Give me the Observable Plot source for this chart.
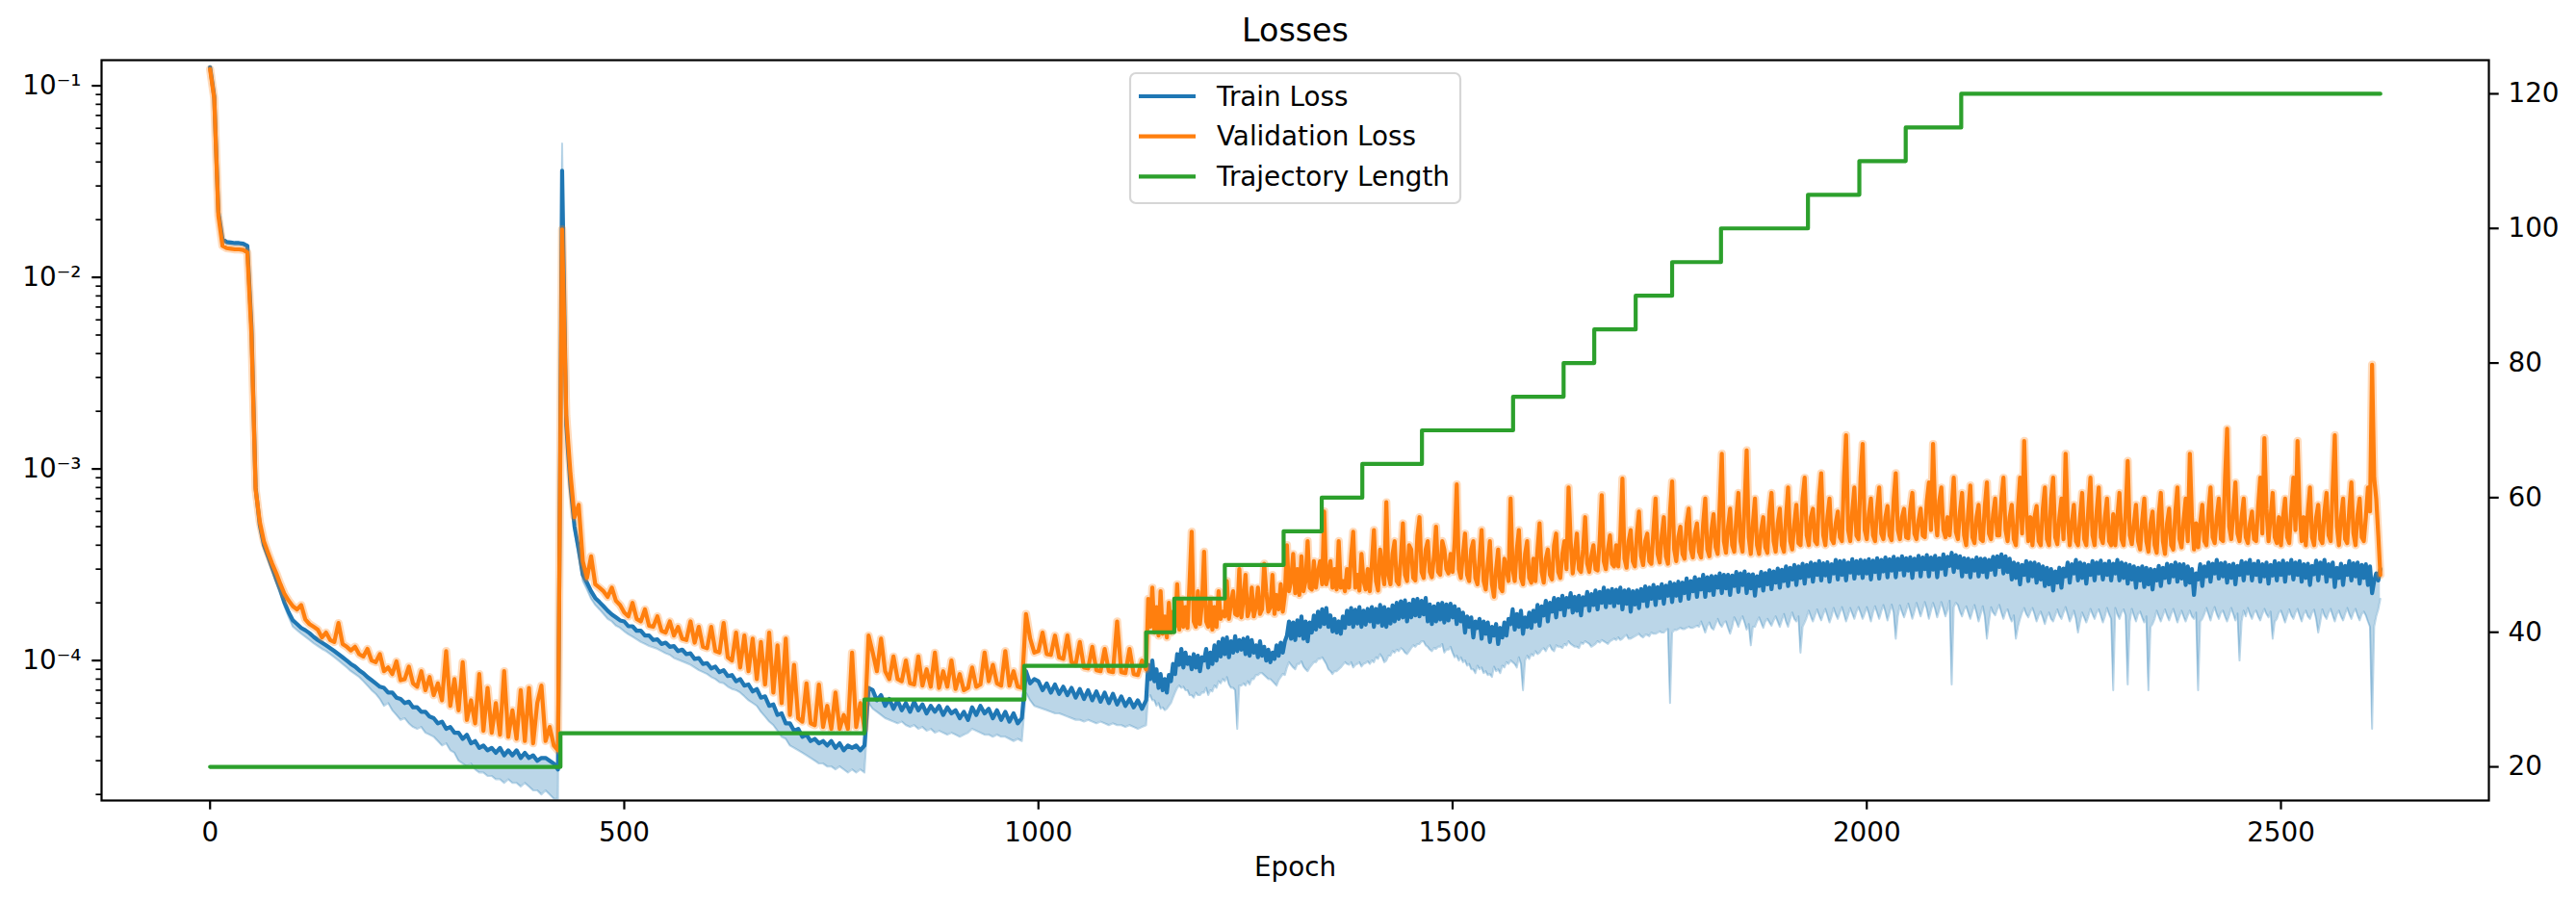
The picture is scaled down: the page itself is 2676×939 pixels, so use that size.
<!DOCTYPE html>
<html>
<head>
<meta charset="utf-8">
<script src="https://cdn.jsdelivr.net/npm/d3@7"></script>
<script src="https://cdn.jsdelivr.net/npm/@observablehq/plot@0.6"></script>
<style>
html, body { margin: 0; padding: 0; background: #fff; overflow: hidden; }
#chart { position: relative; width: 2676px; height: 939px; font-family: "DejaVu Sans"; background: #fff; }
#chart > svg { position: absolute; left: 0; top: 0; }
</style>
</head>
<body>
<div id="chart"></div>
<script>
// ---------------- DATA ----------------
const title = "Losses";
const xLabel = "Epoch";
const seriesNames = ["Train Loss", "Validation Loss", "Trajectory Length"];
const seriesColors = ["#1f77b4", "#ff7f0e", "#2ca02c"];

// loss values in units of 1e-6
const UNIT = 1e-6;
// early part: epochs 0 .. 1125, every 5 epochs
const EARLY_STEP = 5;
// late part: epochs 1130 .. 2620, every 2.5 epochs
const LATE_START = 1130;
const LATE_STEP = 2.5;

const valLossEarly = [
  122000,86000,21000,14600,14200,14100,14000,14000,13900,13500,5000,780,530,420,365,320,285,250,222,205,
  192,185,195,164,155,150,145,132,140,128,125,157,122,118,113,118,108,105,115,100,
  98,108,88,92,85,99,79,80,93,76,73,88,70,82,66,76,62,112,58,80,
  55,98,49,62,47,85,43,72,42,60,41,88,40,55,39,70,38,72,37,60,
  74,38,45,36,34,17800,1900,950,560,650,330,270,350,250,240,230,215,240,205,195,
  178,170,200,165,160,185,152,150,170,143,140,160,135,150,130,128,160,124,150,118,
  116,150,112,110,157,104,100,140,92,135,88,130,80,125,75,140,68,120,60,130,
  52,95,50,48,76,47,46,75,45,58,44,68,44,52,44,110,45,60,44,135,
  110,88,130,88,80,105,80,78,100,76,75,105,74,90,73,110,72,88,73,100,
  71,85,70,72,92,73,75,110,78,95,76,74,112,74,88,73,72,175,130,110,
  112,140,108,107,135,104,102,135,98,96,125,92,91,118,89,88,115,88,87,160,
  87,86,115,85,84,100
];
const trainLossEarly = [
  125000,88000,22000,15800,15300,15200,15100,15100,15000,14600,5500,800,510,400,350,305,265,232,200,178,
  162,155,148,144,139,133,128,124,120,116,112,108,104,100,96,93,89,86,82,79,
  76,73,72,68,68,64,63,60,61,57,57,54,54,51,50,47,48,44,45,42,
  42,39,41,37,38,35,36,34,35,33,35,32,34,32,34,31,33,31,32,30,
  31,31,30,29,27,36000,1700,820,500,380,280,255,230,212,202,192,182,174,168,162,
  160,151,151,143,143,135,135,128,129,122,124,118,119,112,114,108,109,102,103,96,
  97,91,93,87,89,83,84,78,80,74,75,69,71,64,65,58,59,52,53,47,
  47,43,44,40,41,38,39,37,38,36,38,35,37,34,36,35,36,34,36,72,
  70,62,66,58,63,56,62,55,60,54,61,55,59,53,58,54,58,52,57,53,
  55,50,54,49,57,52,58,53,56,50,55,49,54,48,53,47,50,88,76,80,
  78,70,76,68,75,67,73,66,72,64,71,63,70,62,69,61,68,60,67,59,
  65,58,63,57,62,56
];
const trainLowEarly = [
  123000,86000,21000,15400,14900,14800,14700,14700,14600,14200,5300,770,490,385,335,290,252,220,190,168,
  150,144,138,133,128,123,119,115,112,108,104,100,96,92,88,85,82,78,74,70,
  67,63,58,60,55,52,49,50,47,45,44,45,42,41,40,38,36,37,34,33,
  30,29,28,29,27,26,26,25,25,24,24,23,24,23,23,22,23,22,21,21,
  20,21,20,19,19,50000,1600,780,470,350,260,235,210,195,185,175,165,160,152,148,
  142,137,133,129,125,122,119,117,115,112,109,107,103,101,99,97,95,92,89,87,
  85,82,80,77,76,73,71,70,68,65,62,60,58,54,51,48,46,43,40,39,
  36,35,34,33,32,31,30,29,29,28,28,27,28,27,26,27,26,27,26,60,
  56,54,52,50,49,48,47,48,46,45,46,44,45,43,44,42,43,42,41,42,
  41,40,41,42,44,43,42,41,41,40,41,40,40,39,38,39,38,68,62,58,
  57,56,55,54,53,53,52,51,50,49,49,48,49,48,47,48,47,46,47,46,
  46,45,46,45,44,45
];

const valLossLate = [
  90,210,150,240,140,190,135,230,138,170,132,200,140,180,150,250,145,210,150,190,148,260,470,160,150,230,155,200,
  370,160,150,210,145,190,150,230,165,180,170,260,165,200,230,175,172,300,168,210,280,170,185,240,170,190,240,175,185,320,230,180,190,280,175,220,185,250,180,220,
  400,230,260,360,225,300,220,350,230,260,420,240,235,330,240,290,330,250,600,250,280,330,240,300,235,420,240,260,230,300,240,350,470,240,280,232,360,260,235,300,
  230,320,480,260,232,380,300,250,670,280,250,360,420,260,250,340,520,280,260,400,380,270,262,450,560,290,270,380,420,290,272,350,500,290,280,420,380,300,285,360,
  290,420,830,300,270,360,460,280,260,380,420,270,250,340,480,260,235,320,420,250,215,300,380,240,230,340,300,260,700,300,260,380,480,270,250,360,420,270,255,340,
  260,380,520,290,255,340,380,280,265,400,460,290,270,360,420,300,800,420,285,360,460,300,290,380,560,320,290,350,400,300,295,420,730,330,300,380,450,320,310,400,
  310,450,890,340,305,420,480,330,310,460,600,350,315,420,460,330,320,480,700,360,325,450,560,350,320,600,860,380,330,440,500,360,340,520,620,380,345,460,520,370,
  345,520,700,380,350,480,580,390,360,650,1200,420,365,500,620,400,370,560,750,420,370,650,1250,440,360,520,700,400,360,480,560,390,365,600,750,420,370,520,620,400,
  370,560,800,420,380,520,650,410,400,700,900,450,400,560,620,420,405,720,950,450,400,560,700,430,410,520,600,440,420,900,1500,480,420,600,800,450,430,900,1350,480,
  430,580,700,450,420,620,800,460,430,560,640,450,425,700,950,480,430,560,620,440,435,620,750,460,430,540,620,450,440,680,850,480,1350,600,450,680,800,480,440,560,
  450,620,900,470,430,600,750,450,400,600,820,440,410,560,650,430,420,640,850,460,430,580,700,450,450,700,900,480,420,560,650,430,400,620,900,460,1400,600,420,560,
  400,560,640,420,400,620,800,430,400,700,900,440,405,560,700,430,1200,560,400,520,650,420,400,560,750,430,400,620,900,450,400,600,800,440,410,560,700,420,400,580,
  400,560,750,430,400,600,1100,450,405,520,650,420,380,540,700,420,370,520,600,400,365,580,750,420,360,520,620,400,380,600,800,430,390,540,700,420,1200,560,380,520,
  390,520,650,420,400,600,800,440,410,560,700,430,420,900,1620,500,430,600,850,460,420,560,700,440,410,520,600,430,420,640,900,460,1450,620,420,560,750,440,410,560,
  400,560,700,440,410,620,900,480,1400,600,420,560,400,600,800,440,400,560,650,430,410,600,750,450,420,800,1500,500,400,560,700,430,410,620,850,460,400,580,700,440,
  420,560,800,600,3500,900,700,450,280
];
const trainLossLate = [
  62,95,80,100,78,90,72,85,70,80,68,84,78,96,85,108,95,115,92,110,96,104,90,108,92,106,88,104,
  100,115,92,110,96,120,100,125,105,130,108,132,104,126,110,134,112,128,114,130,108,132,106,128,110,120,104,126,106,118,100,114,98,110,102,120,106,124,110,126,
  135,160,130,158,128,162,135,170,130,160,126,158,140,172,145,180,150,185,155,188,150,172,142,165,140,160,138,170,148,182,155,188,150,184,156,190,150,182,154,186,
  160,190,150,186,158,195,152,190,150,185,156,194,160,200,165,204,168,206,160,198,168,208,172,210,170,205,174,212,160,196,155,192,160,198,164,200,158,196,162,198,
  168,192,155,185,160,178,140,170,150,168,132,160,148,165,130,160,138,158,125,150,135,155,122,148,132,158,135,165,155,185,145,175,150,182,138,168,150,178,148,182,
  160,195,152,192,172,205,160,200,180,212,168,210,185,218,172,212,190,225,178,215,182,218,172,214,195,228,182,222,195,232,185,228,200,240,190,232,200,236,192,234,
  200,240,185,232,198,235,180,230,196,232,188,236,205,244,192,240,210,248,195,242,212,250,198,246,218,256,202,252,218,258,205,255,225,268,210,260,230,272,215,266,
  235,280,215,272,232,276,220,275,240,285,225,280,238,280,220,278,245,290,228,285,248,292,225,282,238,282,218,275,245,290,232,286,250,296,236,292,255,302,240,298,
  260,310,245,305,265,315,248,310,270,320,252,315,275,325,258,320,280,330,262,322,278,326,258,318,285,335,265,330,280,332,262,325,288,338,268,330,285,335,270,332,
  285,338,265,332,290,342,268,335,292,345,272,338,295,348,272,340,298,350,278,342,295,346,270,340,298,352,275,345,300,355,275,345,298,352,272,342,302,358,280,348,
  312,365,290,355,305,350,275,342,290,340,272,335,295,345,275,340,290,340,272,335,298,348,280,350,308,358,285,350,290,340,265,325,270,320,250,315,280,330,260,325,
  275,325,255,318,265,310,245,305,250,300,232,292,255,305,240,302,275,325,255,318,285,335,262,325,270,320,252,315,280,330,262,325,285,332,265,320,280,330,262,320,
  285,335,262,325,270,320,252,315,265,310,240,305,262,310,242,305,250,300,235,298,262,312,245,305,270,320,255,315,275,325,258,318,268,318,248,310,255,300,220,285,
  265,318,245,310,275,325,258,320,285,335,268,322,275,325,255,315,270,320,250,312,280,330,262,325,285,335,262,320,280,330,258,318,275,325,252,315,278,330,262,322,
  280,332,258,322,285,335,265,325,280,330,258,318,270,320,248,312,282,332,262,325,285,335,258,318,275,325,242,305,270,320,248,312,280,330,262,322,275,325,252,315,
  270,318,248,310,225,260,285,262,300
];
const trainLowLate = [
  46,64,66,62,62,58,60,56,57,55,56,58,60,64,68,72,74,72,73,70,70,66,66,64,68,66,66,68,
  68,72,66,70,69,74,72,78,76,80,78,82,75,72,72,70,44,74,74,76,74,78,75,80,80,84,84,86,86,84,82,80,80,78,76,74,79,82,85,84,
  92,98,95,92,90,96,96,99,93,90,88,92,95,98,98,102,102,104,100,96,90,88,85,88,88,90,92,95,98,96,95,98,92,95,96,98,93,96,97,99,
  96,100,98,104,102,108,104,98,100,106,106,112,110,114,112,116,114,110,108,112,116,120,118,122,122,126,126,120,118,114,112,116,115,118,118,122,110,114,114,118,
  110,104,106,100,104,98,100,94,96,90,90,86,94,90,92,86,88,84,85,82,93,88,90,86,94,92,98,96,100,98,96,92,104,96,70,100,106,102,108,106,
  112,108,110,114,116,112,118,120,114,112,120,118,118,116,122,120,126,122,120,118,118,116,124,122,126,124,122,118,120,122,126,124,128,126,124,122,126,128,130,128,
  132,128,130,134,136,130,130,132,134,136,138,134,132,136,136,134,140,138,138,140,142,140,140,144,146,60,140,144,144,146,148,146,146,148,150,148,148,150,152,150,
  160,150,140,152,158,148,145,155,165,155,150,158,160,148,138,150,168,160,150,162,170,158,145,155,120,150,150,160,168,158,148,160,165,158,152,162,170,160,150,162,
  175,160,150,165,178,165,160,170,110,150,158,168,182,170,160,172,185,172,162,175,186,172,158,170,188,175,165,178,190,175,160,172,188,176,165,180,190,178,165,176,
  190,176,160,178,192,178,165,180,195,180,162,178,196,178,130,170,194,180,168,182,198,182,165,180,200,185,170,185,202,186,165,182,200,186,168,184,202,186,170,184,
  205,75,190,200,195,180,170,185,192,178,165,180,195,178,160,175,192,170,130,160,190,178,172,185,195,178,165,180,185,170,160,172,130,150,165,178,188,175,168,180,
  188,175,160,172,180,168,155,170,178,165,160,172,185,172,165,178,190,175,160,170,182,165,140,160,178,168,158,170,186,175,165,178,185,172,158,170,188,175,165,70,
  188,175,165,178,185,172,75,160,186,172,160,175,180,168,158,170,70,150,155,165,182,170,160,172,185,172,162,175,186,172,158,170,182,170,160,172,182,170,165,178,
  70,160,165,175,188,175,162,178,190,175,165,178,182,170,160,172,188,175,162,176,100,160,182,170,188,175,165,178,182,170,162,175,186,175,168,180,130,160,165,178,
  182,170,158,172,185,172,165,178,186,172,160,175,182,170,165,178,184,165,140,160,185,172,165,178,186,172,160,175,182,170,162,175,188,175,165,178,186,172,162,175,
  180,172,160,150,44,150,170,185,210
];

// trajectory length: epoch at which each level starts
const trajStart  = [0, 423, 790, 983, 1130, 1164, 1225, 1296, 1342, 1391, 1463, 1573, 1634, 1671, 1721, 1765, 1824, 1929, 1991, 2047, 2114, 2620];
const trajLength = [20, 25, 30, 35, 40, 45, 50, 55, 60, 65, 70, 75, 80, 85, 90, 95, 100, 105, 110, 115, 120, 120];

const xTicks = [0, 500, 1000, 1500, 2000, 2500];
const lossTicks = [1e-4, 1e-3, 1e-2, 1e-1];
const lengthTicks = [20, 40, 60, 80, 100, 120];

// ---------------- BUILD ----------------
const rows = [
  ...valLossEarly.map((v, i) => ({
    epoch: i * EARLY_STEP, val: v * UNIT, train: trainLossEarly[i] * UNIT, lo: trainLowEarly[i] * UNIT
  })),
  ...valLossLate.map((v, i) => ({
    epoch: LATE_START + i * LATE_STEP, val: v * UNIT, train: trainLossLate[i] * UNIT, lo: trainLowLate[i] * UNIT
  }))
];
const traj = trajStart.map((e, i) => ({ epoch: e, len: trajLength[i] }));

const W = 2676, H = 939;
const common = { width: W, height: H, marginLeft: 105, marginRight: 91, marginTop: 62, marginBottom: 108 };
const xDomain = [-131, 2751];
const lossDomain = [1.86e-5, 0.136];
const lenDomain = [15, 125];
const svgStyle = { background: "transparent", fontFamily: "DejaVu Sans", fontSize: "27.8px", color: "black", overflow: "visible" };

const supMap = { "-": "\u207B", "0": "\u2070", "1": "\u00B9", "2": "\u00B2", "3": "\u00B3", "4": "\u2074", "5": "\u2075", "6": "\u2076", "7": "\u2077", "8": "\u2078", "9": "\u2079" };
const sup = s => s.split("").map(c => supMap[c] || c).join("");
const minorTicks = d3.scaleLog().domain(lossDomain).ticks()
  .filter(t => Math.abs(Math.log10(t) - Math.round(Math.log10(t))) > 1e-9);

const p1 = Plot.plot({
  ...common,
  style: svgStyle,
  x: { domain: xDomain },
  y: { type: "log", domain: lossDomain },
  marks: [
    Plot.areaY(rows, { x: "epoch", y1: "lo", y2: "train", fill: seriesColors[0], fillOpacity: 0.3, clip: true }),
    Plot.lineY(rows, { x: "epoch", y: "lo", stroke: seriesColors[0], strokeOpacity: 0.3, strokeWidth: 2, clip: true }),
    Plot.lineY(rows, { x: "epoch", y: "train", stroke: seriesColors[0], strokeWidth: 4.2, clip: true }),
    Plot.lineY(rows, { x: "epoch", y: "val", stroke: seriesColors[1], strokeOpacity: 0.28, strokeWidth: 8.5, clip: true }),
    Plot.lineY(rows, { x: "epoch", y: "val", stroke: seriesColors[1], strokeWidth: 4.2, clip: true }),
    Plot.axisX({ ticks: xTicks, tickFormat: d => String(d), tickSize: 9.7, tickPadding: 13.4, strokeWidth: 2.2, label: null }),
    Plot.axisY({ ticks: lossTicks, tickFormat: d => "10" + sup(String(Math.round(Math.log10(d)))), tickSize: 9.7, tickPadding: 11.3, strokeWidth: 2.2, label: null }),
    Plot.axisY({ ticks: minorTicks, tickFormat: () => "", tickSize: 5.6, strokeWidth: 1.7, label: null })
  ]
});

const p2 = Plot.plot({
  ...common,
  style: svgStyle,
  x: { domain: xDomain, axis: null },
  y: { domain: lenDomain },
  marks: [
    Plot.line(traj, { x: "epoch", y: "len", stroke: seriesColors[2], strokeWidth: 4.2, curve: "step-after" }),
    Plot.axisY({ anchor: "right", ticks: lengthTicks, tickSize: 9.7, tickPadding: 10.3, strokeWidth: 2.2, label: null }),
    Plot.frame({ stroke: "black", strokeWidth: 2.2 }),
    Plot.text([title], { text: d => d, frameAnchor: "top", dy: -30, fontSize: 33.3, lineAnchor: "middle" }),
    Plot.text([xLabel], { text: d => d, frameAnchor: "bottom", dy: 70, fontSize: 27.8, lineAnchor: "middle" })
  ]
});

const chart = document.getElementById("chart");
chart.appendChild(p1);
chart.appendChild(p2);

// legend (upper center)
const leg = d3.create("svg").attr("width", W).attr("height", H)
  .style("position", "absolute").style("left", "0px").style("top", "0px")
  .style("font-family", "DejaVu Sans");
const lg = { x: 1174, y: 76, w: 343, h: 135, row0: 100, rowGap: 41.7 };
leg.append("rect").attr("x", lg.x).attr("y", lg.y).attr("width", lg.w).attr("height", lg.h)
  .attr("rx", 6).attr("fill", "white").attr("fill-opacity", 0.8)
  .attr("stroke", "#d6d6d6").attr("stroke-width", 2.2);
seriesNames.forEach((name, i) => {
  const yy = lg.row0 + i * lg.rowGap;
  leg.append("line").attr("x1", 1183).attr("x2", 1242).attr("y1", yy).attr("y2", yy)
    .attr("stroke", seriesColors[i]).attr("stroke-width", 4.2);
  leg.append("text").attr("x", 1264).attr("y", yy).attr("dy", "0.35em")
    .attr("font-size", 27.8).attr("fill", "black").text(name);
});
chart.appendChild(leg.node());
</script>
</body>
</html>
